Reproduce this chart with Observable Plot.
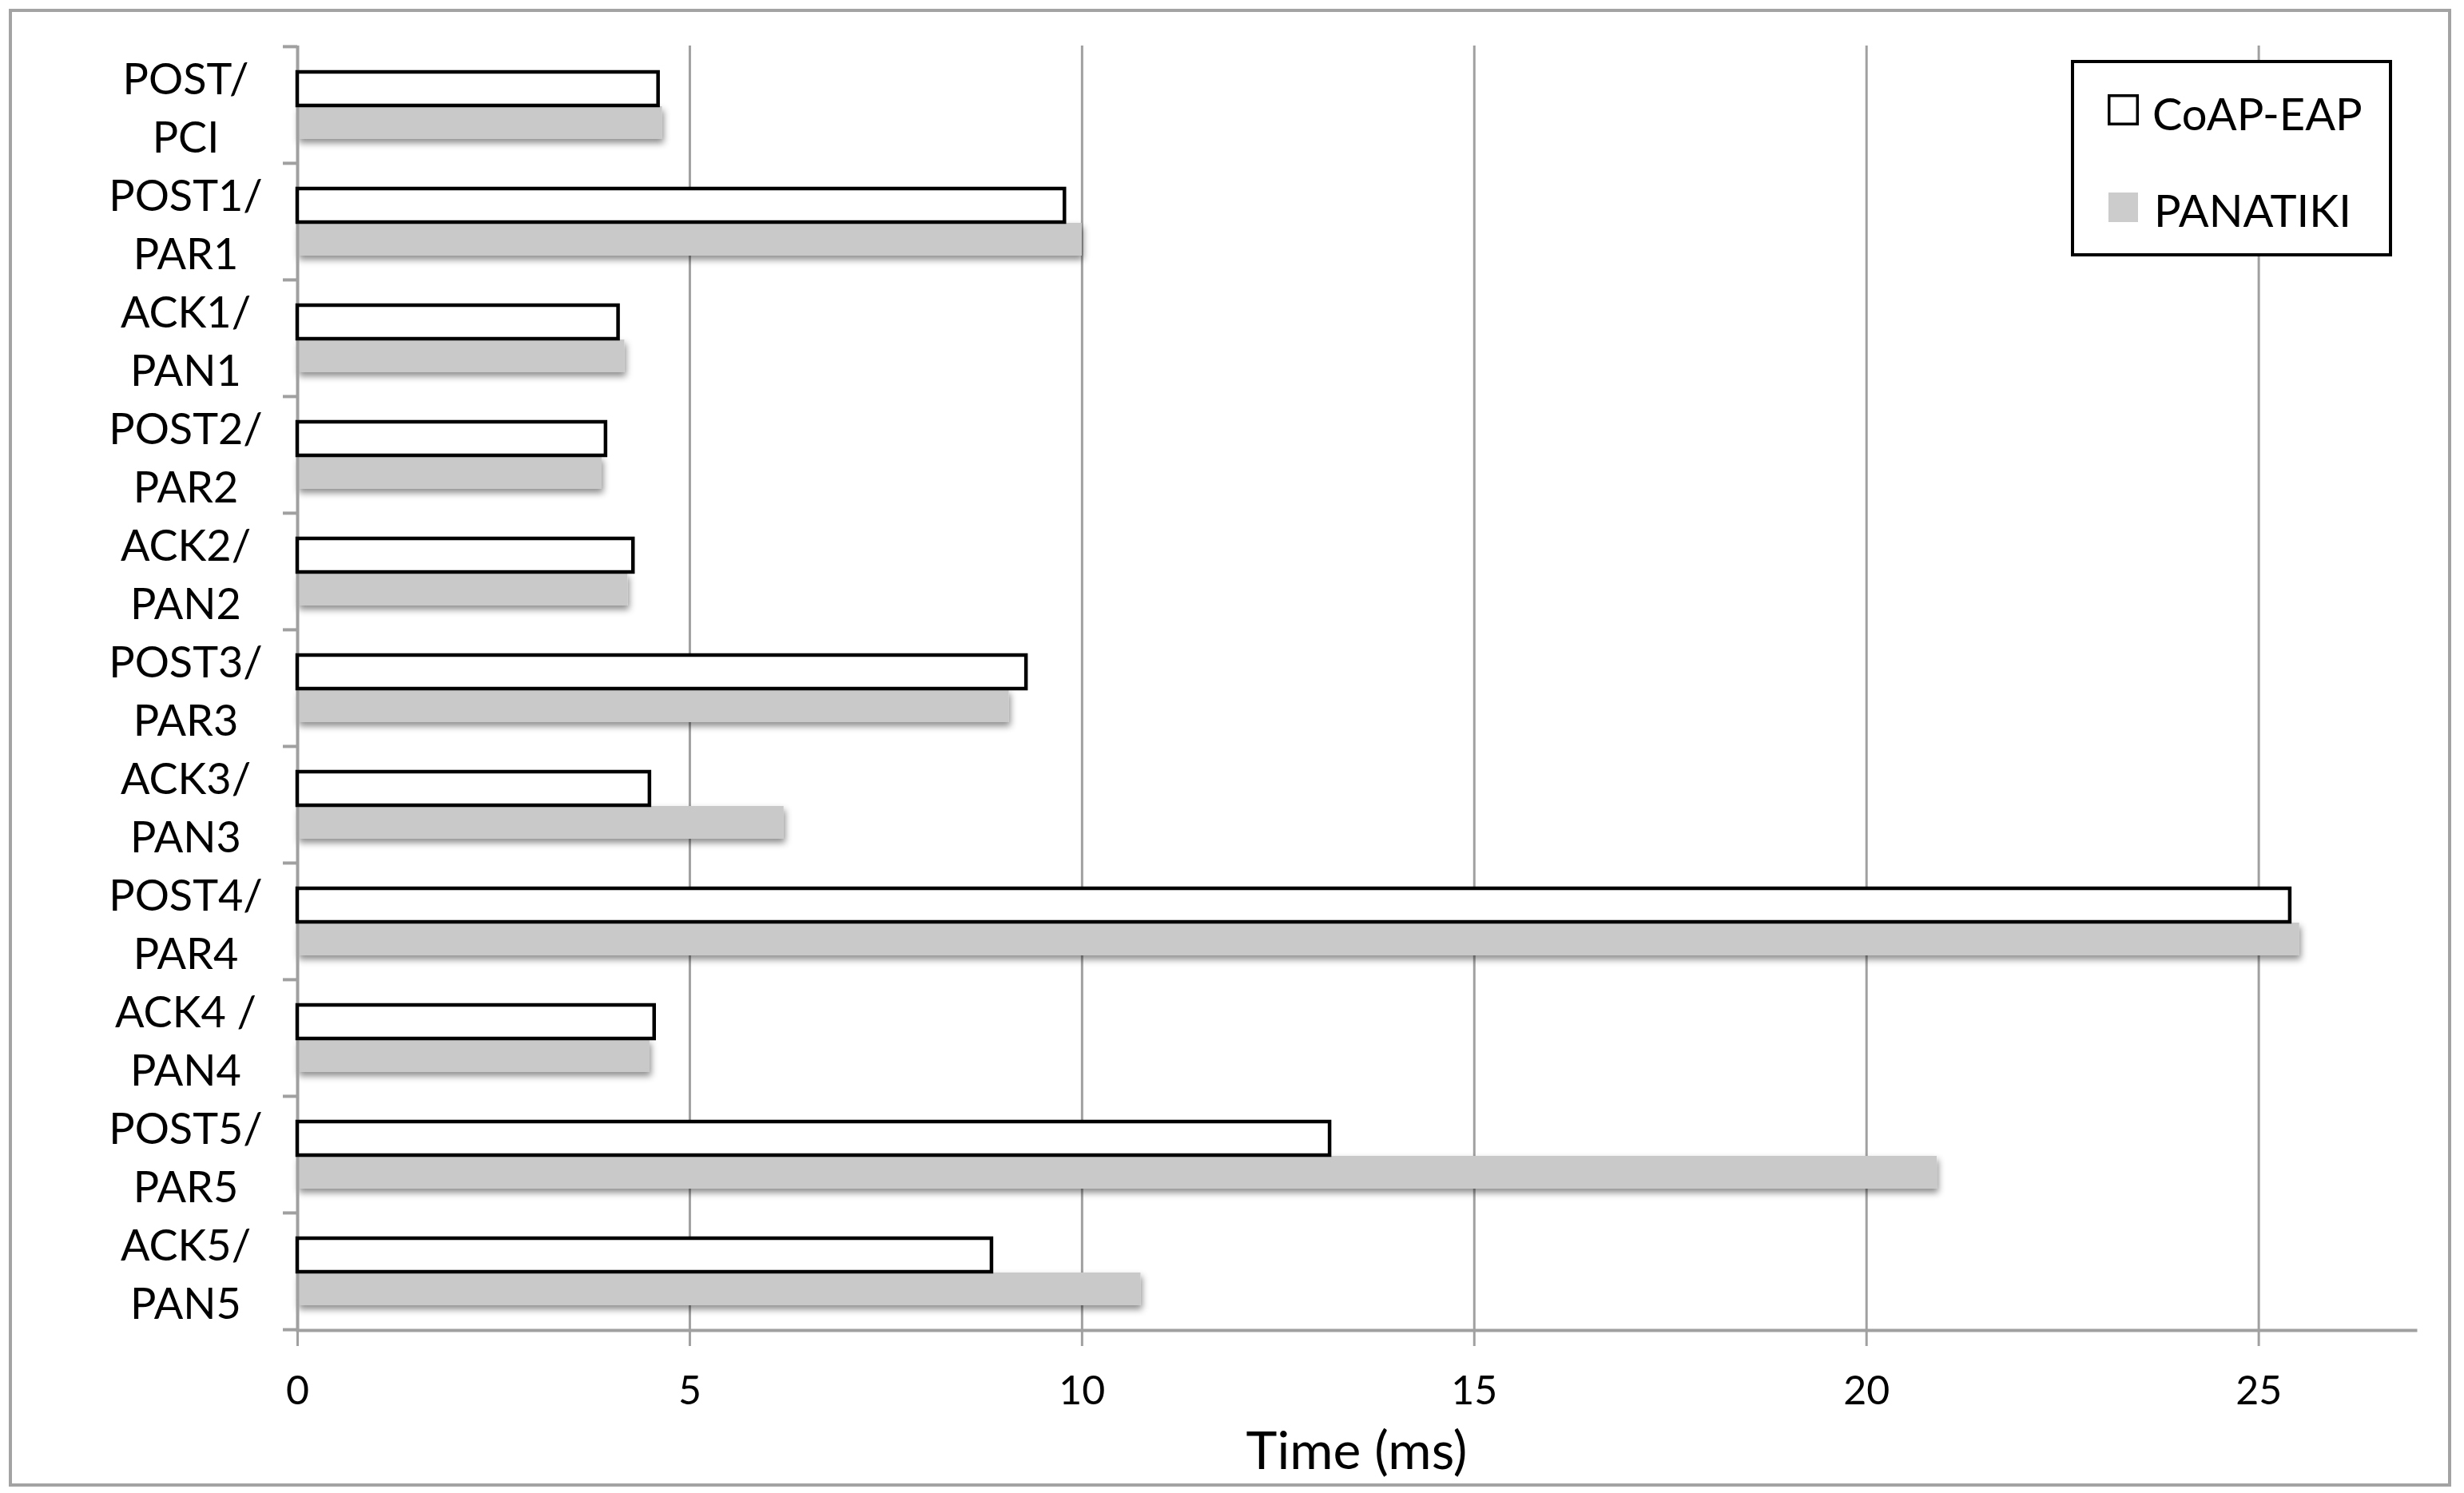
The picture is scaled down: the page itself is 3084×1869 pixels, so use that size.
<!DOCTYPE html>
<html><head><meta charset="utf-8">
<script src="https://cdn.jsdelivr.net/npm/d3@7"></script>
<script src="https://cdn.jsdelivr.net/npm/@observablehq/plot@0.6"></script>
<style>
html,body{margin:0;padding:0;background:#fff;}
#wrap{position:relative;width:3084px;height:1869px;overflow:hidden;}
#frame{position:absolute;left:11px;top:11px;width:3049px;height:1842px;border:4px solid #a3a3a3;pointer-events:none;}
#legend{position:absolute;left:2592px;top:75px;}
</style></head><body>
<div id="wrap"><div id="chart"></div><div id="frame"></div><div id="legend"></div></div>
<script>
const categories = ["POST/PCI","POST1/PAR1","ACK1/PAN1","POST2/PAR2","ACK2/PAN2","POST3/PAR3","ACK3/PAN3","POST4/PAR4","ACK4 /PAN4","POST5/PAR5","ACK5/PAN5"];
const seriesNames = ["CoAP-EAP","PANATIKI"];
const coapEap = [4.6,9.78,4.09,3.93,4.28,9.29,4.49,25.4,4.55,13.16,8.85];
const panatiki = [4.65,10.0,4.17,3.88,4.21,9.07,6.2,25.52,4.49,20.9,10.75];
const xTicks = [0,5,10,15,20,25];
const xMax = 27;
const xTitle = "Time (ms)";

const W = 3084, H = 1869, mT = 57, mB = 204, mL = 372, mR = 61;
const bw = (H - mT - mB) / categories.length;
const lineGray = "#a0a0a0";
const rows = categories.map((c, i) => ({category: c, coap: coapEap[i], pan: panatiki[i]}));

const chart = Plot.plot({
  width: W, height: H,
  marginLeft: mL, marginRight: mR, marginTop: mT, marginBottom: mB,
  style: {fontFamily: "Lato, sans-serif", fontSize: "54px", color: "black", background: "white"},
  x: {domain: [0, xMax]},
  y: {domain: categories, padding: 0},
  marks: [
    Plot.gridX(xTicks.slice(1), {stroke: lineGray, strokeOpacity: 1, strokeWidth: 3}),
    Plot.axisX(xTicks, {tickSize: 20, tickPadding: 37, stroke: lineGray, strokeWidth: 3, fill: "black",
      fontSize: 50, label: null}),
    Plot.text([xTitle], {frameAnchor: "bottom", dy: 173, lineAnchor: "bottom", fontSize: 66, fill: "black"}),
    Plot.axisY({tickSize: 18, dy: -bw / 2, fill: "none", stroke: lineGray, strokeWidth: 4, label: null}),
    Plot.axisY([categories[categories.length - 1]], {tickSize: 18, dy: bw / 2, fill: "none", stroke: lineGray, strokeWidth: 4, label: null}),
    Plot.axisY({tickSize: 0, tickPadding: 140, textAnchor: "middle", lineHeight: 1.35, stroke: "none",
      tickFormat: d => d.replace("/", "/\n"), fill: "black", label: null}),
    Plot.barX(rows, {x: "pan", y: "category", fill: "#c9c9c9", insetTop: 75, insetBottom: 30}),
    Plot.ruleX([0], {stroke: lineGray, strokeWidth: 4}),
    Plot.frame({anchor: "bottom", stroke: lineGray, strokeWidth: 4}),
    Plot.barX(rows, {x: "coap", y: "category", fill: "white", stroke: "black", strokeWidth: 4.5, insetTop: 32, insetBottom: 72})
  ]
});
document.getElementById("chart").appendChild(chart);

// drop shadow on the grey bars
const svg = d3.select(chart);
const defs = svg.insert("defs", ":first-child");
const f = defs.append("filter").attr("id", "shadow").attr("x", "-5%").attr("y", "-30%").attr("width", "110%").attr("height", "180%");
f.append("feDropShadow").attr("dx", 2).attr("dy", 5).attr("stdDeviation", 4).attr("flood-color", "#000").attr("flood-opacity", 0.45);
const barGroups = chart.querySelectorAll('g[aria-label="bar"]');
if (barGroups.length) barGroups[0].setAttribute("filter", "url(#shadow)");

// legend (inside the chart area, top-right)
const lg = d3.select("#legend").append("svg").attr("width", 402).attr("height", 246)
  .style("font-family", "Lato, sans-serif").style("font-size", "56px");
lg.append("rect").attr("x", 2).attr("y", 2).attr("width", 398).attr("height", 242)
  .attr("fill", "white").attr("stroke", "black").attr("stroke-width", 4);
const swatches = [
  {fill: "white", stroke: "black", sw: 3.5, x: 47.75, y: 44.75, s: 35.5, tx: 102, ty: 88},
  {fill: "#cccccc", stroke: "none", sw: 0, x: 47, y: 166, s: 37, tx: 104, ty: 209}
];
seriesNames.forEach((name, i) => {
  const s = swatches[i];
  lg.append("rect").attr("x", s.x).attr("y", s.y).attr("width", s.s).attr("height", s.s)
    .attr("fill", s.fill).attr("stroke", s.stroke).attr("stroke-width", s.sw);
  lg.append("text").attr("x", s.tx).attr("y", s.ty).attr("fill", "black").text(name);
});
</script>
</body></html>
